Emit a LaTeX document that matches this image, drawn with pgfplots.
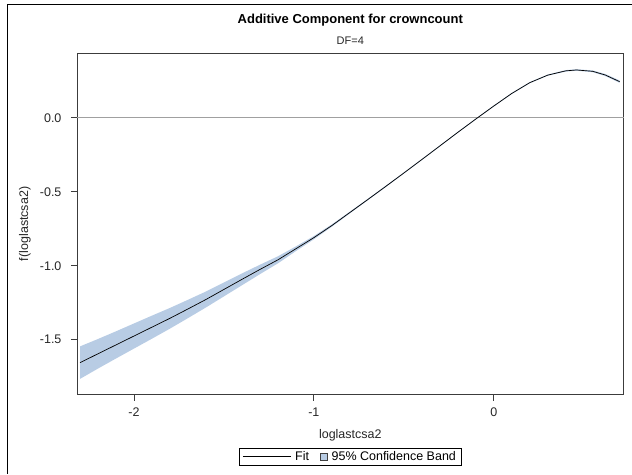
\documentclass[border=0pt]{standalone}
\usepackage{pgfplots}
\pgfplotsset{compat=1.18}
\usepackage{pgfplotstable}
\usepgfplotslibrary{fillbetween}
\usepackage{fontspec}
\setmainfont{Liberation Sans}
\definecolor{bandblue}{RGB}{184,204,228}
\definecolor{framegray}{RGB}{60,60,60}
\definecolor{refgray}{RGB}{160,160,160}

\pgfplotstableread{
x fit lo hi
-2.30 -1.655 -1.765 -1.545
-2.20 -1.595 -1.695 -1.495
-2.10 -1.535 -1.627 -1.443
-2.00 -1.475 -1.560 -1.390
-1.90 -1.415 -1.493 -1.337
-1.80 -1.355 -1.425 -1.285
-1.70 -1.292 -1.354 -1.230
-1.60 -1.228 -1.282 -1.174
-1.50 -1.160 -1.207 -1.113
-1.40 -1.092 -1.132 -1.052
-1.30 -1.025 -1.057 -0.993
-1.20 -0.960 -0.984 -0.936
-1.10 -0.885 -0.901 -0.869
-1.00 -0.810 -0.821 -0.799
-0.90 -0.728 -0.736 -0.720
-0.80 -0.640 -0.646 -0.634
-0.70 -0.552 -0.557 -0.547
-0.60 -0.463 -0.468 -0.458
-0.50 -0.373 -0.377 -0.369
-0.40 -0.282 -0.286 -0.278
-0.30 -0.190 -0.194 -0.186
-0.20 -0.098 -0.102 -0.094
-0.10 -0.008 -0.012 -0.004
0.00 0.080 0.076 0.084
0.10 0.165 0.161 0.169
0.20 0.238 0.234 0.242
0.30 0.289 0.285 0.293
0.40 0.318 0.313 0.323
0.46 0.324 0.319 0.329
0.55 0.315 0.309 0.321
0.62 0.290 0.283 0.297
0.70 0.245 0.237 0.253
}\fitdata

\begin{document}
\begin{tikzpicture}
\path (0pt,0pt) rectangle (632pt,474pt);
\draw[black, line width=0.8pt] (7pt,0pt) -- (7pt,470pt) -- (632pt,470pt);
\begin{axis}[
  at={(77pt,79pt)}, anchor=south west,
  scale only axis, width=547pt, height=342pt,
  xmin=-2.317, xmax=0.722, ymin=-1.872, ymax=0.439,
  axis line style={framegray, line width=0.8pt},
  tick style={framegray, line width=0.8pt},
  tick align=outside, major tick length=6pt,
  xtick pos=bottom, ytick pos=left,
  xtick={-2,-1,0}, ytick={-1.5,-1,-0.5,0},
  yticklabel style={/pgf/number format/fixed, /pgf/number format/fixed zerofill, /pgf/number format/precision=1, xshift=-6pt},
  /pgf/number format/assume math mode=true,
  ticklabel style={font=\fontsize{12.5}{14}\selectfont, text=black!85},
  xticklabel style={yshift=-3.5pt},
  legend style={at={(0.5,-0.181)}, anchor=center, draw=black, line width=0.6pt,
    font=\fontsize{12.5}{14}\selectfont, legend columns=2,
    inner xsep=3pt, inner ysep=1.5pt,
    /tikz/every odd column/.append style={column sep=2pt},
    /tikz/every even column/.append style={column sep=9pt}},
  clip=false,
]
\addplot[name path=upper, draw=none, forget plot] table[x=x, y=hi] {\fitdata};
\addplot[name path=lower, draw=none, forget plot] table[x=x, y=lo] {\fitdata};
\addplot[fill=bandblue, draw=none, forget plot] fill between[of=upper and lower];
\addplot[refgray, line width=0.8pt, forget plot] coordinates {(-2.317,0) (0.722,0)};
\addplot[black, line width=0.7pt, forget plot] table[x=x, y=fit] {\fitdata};
\addlegendimage{legend image code/.code={\draw[black, line width=0.6pt] (0pt,0pt) -- (48pt,0pt);}}
\addlegendentry{Fit}
\addlegendimage{legend image code/.code={\draw[fill=bandblue, draw=black!75, line width=0.6pt] (0pt,-3.5pt) rectangle (7pt,3.5pt);}}
\addlegendentry{95\% Confidence Band}
\node[font=\bfseries\fontsize{13}{15}\selectfont] at (axis description cs:0.5,1.095) {Additive Component for crowncount};
\node[font=\fontsize{11}{13}\selectfont, text=black!85] at (axis description cs:0.5,1.037) {DF=4};
\node[font=\fontsize{12.5}{14}\selectfont, text=black!85] at (axis description cs:0.5,-0.12) {loglastcsa2};
\node[font=\fontsize{12.5}{14}\selectfont, text=black!85, rotate=90] at (axis description cs:-0.095,0.5) {f(loglastcsa2)};
\end{axis}
\end{tikzpicture}
\end{document}
